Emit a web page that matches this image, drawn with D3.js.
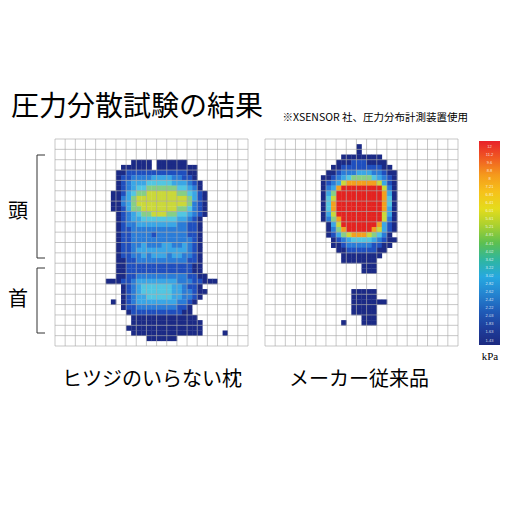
<!DOCTYPE html>
<html><head><meta charset="utf-8">
<script src="https://cdn.jsdelivr.net/npm/d3@7"></script>
<style>body{margin:0;background:#fff}</style></head>
<body><svg id="c" width="512" height="512"></svg>
<script>
// half-cell pressure levels (0 = none, 1..9 low..high), 38 cols x 40 rows
const leftRows = [
"","","","",
"               1111 111111",
"             111111 11111111",
"            1122222222222211",
"            1223333444433221",
"            12344455555444321",
"            12345566666655431",
"           1124566777777665421",
"           1134677777777776421",
"           1134677777777776321",
"           1124667777777665321",
"            123456677766554321",
"            12344555555544321",
"            12334444444433221",
"            12233333333333221",
"            12233332333333221",
"            12233333333333321",
"            12233433344334321",
"            12234444444444321",
"            12233434443443321",
"            11223333333333221",
"            11222222222222211",
"            11222222222222211",
"            112233333333332211",
"          1112234444444433322111",
"             1234555555443221",
"             12345555554433211",
"             1234455555443321",
"           1 123444444443321",
"             12233333333221",
"              1222222222211",
"               1111111111111",
"               11111111111111",
"              111111111111111",
"               11111111111111    1",
"                  111111",
""];
const rightRows = [
"",
"                  1",
"                  1",
"               11111111",
"              1112221111",
"             112222222211",
"            11233344433211",
"           112345666654321",
"           123478888887421",
"           134899999999731",
"           146999999999841",
"           157999999999851",
"           158999999999851",
"           158999999999841",
"           147999999999741",
"           136899999999731",
"            14799999998421",
"            13689999987421",
"            1246788876531",
"             1234555543211",
"             112333332211",
"              1122222211",
"               11111111",
"               1111111",
"                   111",
"                   111",
"","","",
"                 11111",
"                 11111",
"                 1111111",
"                 11111",
"                 11111",
"                   111",
"               1   111",
"","","",""];
const levelColors = ["#1b2a86","#1f4fbf","#2a7cd8","#3aa6e6","#52c6e2","#86cf86","#cad83a","#f2a01e","#e32320"];
const barLabels = ["12","11.2","9.6","8.8","8","7.21","6.81","6.41","6.01","5.61","5.21","4.81","4.41","4.02","3.62","3.22","3.02","2.82","2.62","2.42","2.22","2.03","1.83","1.63","1.43"];
const barStops = ["#e8202a","#f05a22","#f59a1c","#f6c21a","#e4dc1c","#a8d030","#5cc050","#2fb6a0","#26a8e0","#2484d0","#1f5cb8","#1e3e9c","#1c2a80"];
const captions = ["ヒツジのいらない枕","メーカー従来品"];

const svg = d3.select("#c");
const font = "'Noto Sans CJK JP', sans-serif";

function panel(rows, x0, w, y0, h){
  const x = d3.scaleLinear().domain([0,38]).range([x0, x0+w]);
  const y = d3.scaleLinear().domain([0,40]).range([y0, y0+h]);
  const cells = [];
  rows.forEach((r,i)=>{ for(let j=0;j<r.length;j++){ const v=+r[j]; if(r[j]!==" " && v>0) cells.push({i,j,v}); }});
  const g = svg.append("g");
  g.selectAll("rect.cell").data(cells).enter().append("rect")
    .attr("x", d=>x(d.j)).attr("y", d=>y(d.i))
    .attr("width", x(1)-x(0)+0.3).attr("height", y(1)-y(0)+0.3)
    .attr("fill", d=>levelColors[d.v-1]);
  g.selectAll("line.v").data(d3.range(0,39,2)).enter().append("line")
    .attr("x1", d=>x(d)).attr("x2", d=>x(d)).attr("y1", y0).attr("y2", y0+h)
    .attr("stroke","#a8a8a8").attr("stroke-width",0.8).attr("stroke-opacity",0.8);
  g.selectAll("line.h").data(d3.range(0,41,2)).enter().append("line")
    .attr("y1", d=>y(d)).attr("y2", d=>y(d)).attr("x1", x0).attr("x2", x0+w)
    .attr("stroke","#a8a8a8").attr("stroke-width",0.8).attr("stroke-opacity",0.8);
}
panel(leftRows, 55, 193, 139, 207);
panel(rightRows, 265, 193, 139, 207);

// colour bar
const defs = svg.append("defs");
const grad = defs.append("linearGradient").attr("id","bar").attr("x1",0).attr("x2",0).attr("y1",0).attr("y2",1);
grad.selectAll("stop").data(barStops).enter().append("stop")
  .attr("offset",(d,i)=>i/(barStops.length-1)).attr("stop-color",d=>d);
svg.append("rect").attr("x",479).attr("y",141).attr("width",21).attr("height",204).attr("fill","url(#bar)");
const by = d3.scalePoint().domain(barLabels).range([146,340]);
svg.selectAll("text.bl").data(barLabels).enter().append("text")
  .attr("x",489.5).attr("y",d=>by(d)+1.5).attr("text-anchor","middle")
  .attr("font-size",4).attr("fill","#fff").attr("fill-opacity",0.8).attr("font-family","sans-serif").text(d=>d);
svg.append("text").attr("x",490).attr("y",360).attr("text-anchor","middle")
  .attr("font-size",11).attr("font-family","'Liberation Serif', serif").text("kPa");

// titles
svg.append("text").attr("x",11).attr("y",116).attr("font-size",28).attr("font-family",font).text("圧力分散試験の結果");
svg.append("text").attr("x",468).attr("y",121).attr("text-anchor","end").attr("font-size",10.5).attr("font-family",font).text("※XSENSOR 社、圧力分布計測装置使用");
svg.append("text").attr("x",8).attr("y",218).attr("font-size",20).attr("font-family",font).text("頭");
svg.append("text").attr("x",8).attr("y",306).attr("font-size",20).attr("font-family",font).text("首");
const br = [[155,258],[268,333]];
br.forEach(b=>{
  svg.append("path").attr("d",`M45,${b[0]}H37V${b[1]}H45`).attr("fill","none").attr("stroke","#333").attr("stroke-width",1);
});
svg.selectAll("text.cap").data(captions).enter().append("text")
  .attr("x",(d,i)=>[152,359][i]).attr("y",386).attr("text-anchor","middle")
  .attr("font-size",20).attr("font-family",font).text(d=>d);
</script></body></html>
